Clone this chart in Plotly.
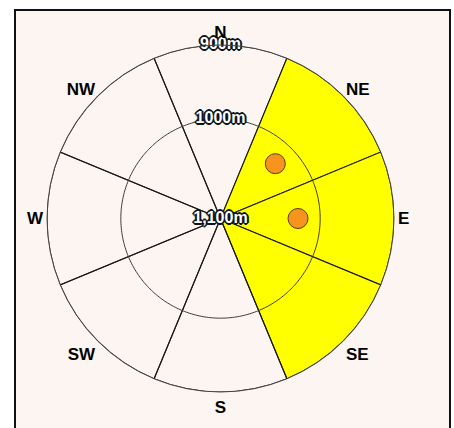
import numpy as np
import plotly.graph_objects as go

# ---- data ----
aspects = ["N", "NE", "E", "SE", "S", "SW", "W", "NW"]
highlighted = [False, True, True, True, False, False, False, False]
elev_outer = 900          # outer ring of the rose (m)
elev_center = 1135        # elevation mapped to the centre of the rose (m)
ring_elevs = [1000]
label_elevs = [900, 1000, elev_center]
label_texts = ["900m", "1000m", "1,100m"]
obs_aspect = ["NE", "E"]
obs_elev = [1030, 1030]

# ---- derived ----
theta_deg = [i * 360 / len(aspects) for i in range(len(aspects))]
aspect_deg = dict(zip(aspects, theta_deg))
sector_width = 360 / len(aspects)

W, H = 454, 428
cx, cy, R = 220.5, 218.5, 173.5
dom_x = [(cx - R) / W, (cx + R) / W]
dom_y = [(H - cy - R) / H, (H - cy + R) / H]

BG = "#fdf5f2"

fig = go.Figure()

fig.add_trace(go.Barpolar(
    theta=theta_deg,
    r=[elev_center - elev_outer] * len(aspects),
    base=[elev_outer] * len(aspects),
    width=[sector_width] * len(aspects),
    marker=dict(
        color=["#ffff00" if h else "rgba(0,0,0,0)" for h in highlighted],
        line=dict(color="#1a1a1a", width=1.1),
    ),
    hoverinfo="skip",
    showlegend=False,
))

circle_theta = np.linspace(0, 360, 361)
for e in ring_elevs:
    fig.add_trace(go.Scatterpolar(
        theta=circle_theta, r=[e] * len(circle_theta), mode="lines",
        line=dict(color="#3a3a3a", width=1), hoverinfo="skip", showlegend=False,
    ))

fig.add_trace(go.Scatterpolar(
    theta=[aspect_deg[a] for a in obs_aspect], r=obs_elev, mode="markers",
    marker=dict(size=20, color="#f7941d", line=dict(color="#5a3a10", width=1)),
    showlegend=False,
))

offs = [(1, 0), (-1, 0), (0, 1), (0, -1), (1, 1), (-1, -1), (1, -1), (-1, 1),
        (2, 0), (-2, 0), (0, 2), (0, -2)]
outline = ", ".join(f"{dx}px {dy}px 0 #0d1520" for dx, dy in offs)
fig.add_trace(go.Scatterpolar(
    theta=[0] * len(label_elevs), r=label_elevs, mode="text",
    text=label_texts, textposition="middle center",
    textfont=dict(family="Liberation Sans", size=16, color="#ffffff", weight="bold",
                  shadow=outline),
    cliponaxis=False, hoverinfo="skip", showlegend=False,
))

fig.update_layout(
    width=W, height=H,
    margin=dict(l=0, r=0, t=0, b=0),
    paper_bgcolor="white",
    plot_bgcolor="white",
    showlegend=False,
    shapes=[dict(
        type="rect", xref="paper", yref="paper",
        x0=15 / W, x1=450 / W, y0=-0.2, y1=1 - 10 / H,
        line=dict(color="#111111", width=2), fillcolor=BG, layer="below",
    )],
    polar=dict(
        domain=dict(x=dom_x, y=dom_y),
        bgcolor="rgba(0,0,0,0)",
        angularaxis=dict(
            rotation=90, direction="clockwise",
            tickmode="array", tickvals=theta_deg, ticktext=aspects,
            showgrid=False, ticks="",
            showline=True, linecolor="#444444", linewidth=1,
            tickfont=dict(family="Liberation Sans", size=17, color="#000000", weight="bold"),
        ),
        radialaxis=dict(
            range=[elev_center, elev_outer],
            showgrid=False, showline=False, showticklabels=False, ticks="",
        ),
    ),
)

fig.write_html(
    "out.html",
    config={"displayModeBar": False},
    post_script="document.body.style.margin='0';document.documentElement.style.overflow='hidden';",
)
